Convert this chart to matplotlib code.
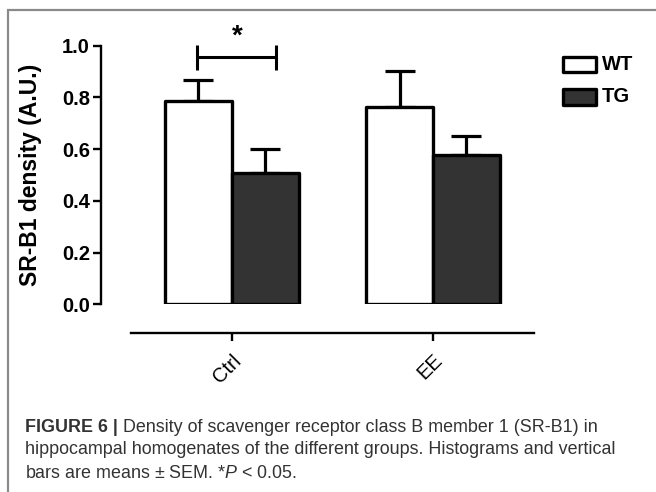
import matplotlib
matplotlib.use("Agg")
import matplotlib.pyplot as plt
from matplotlib.patches import Rectangle
import numpy as np

groups = ["Ctrl", "EE"]
series = ["WT", "TG"]
wt_mean = [0.787, 0.762]
wt_sem = [0.079, 0.141]
tg_mean = [0.507, 0.577]
tg_sem = [0.093, 0.075]
y_ticks = [0.0, 0.2, 0.4, 0.6, 0.8, 1.0]
ylabel = "SR-B1 density (A.U.)"
caption_bold = "FIGURE 6 |"
caption_lines = [
    " Density of scavenger receptor class B member 1 (SR-B1) in",
    "hippocampal homogenates of the different groups. Histograms and vertical",
    "bars are means \u00b1 SEM. *$P$ < 0.05.",
]

W, H = 656, 492
fig = plt.figure(figsize=(W / 100, H / 100), dpi=100)
fig.patch.set_facecolor("white")
plt.rcParams["font.family"] = ["Liberation Sans", "DejaVu Sans"]
plt.rcParams["mathtext.fontset"] = "custom"
plt.rcParams["mathtext.it"] = "Liberation Sans:italic"

def fx(px):
    return px / W

def fy(py):
    return 1 - py / H

# axes placement (pixels)
ax_left, ax_right = 101, 545
y0_px, y1_px = 304.3, 45.7
ax = fig.add_axes([fx(ax_left), fy(y0_px), (ax_right - ax_left) / W, (y0_px - y1_px) / H])
ax.set_facecolor("none")

x = np.arange(len(groups))
bw = 0.3325
lw_bar = 2.4
ax.bar(x - bw / 2, wt_mean, bw, color="white", edgecolor="black", linewidth=lw_bar,
       joinstyle="round", zorder=3, label=series[0])
ax.bar(x + bw / 2, tg_mean, bw, color="#333333", edgecolor="black", linewidth=lw_bar,
       joinstyle="round", zorder=3, label=series[1])
ax.errorbar(x - bw / 2, wt_mean, yerr=[np.zeros(len(groups)), wt_sem], fmt="none",
            ecolor="black", elinewidth=2.3, capsize=10.5, capthick=2.3, zorder=2)
ax.errorbar(x + bw / 2, tg_mean, yerr=[np.zeros(len(groups)), tg_sem], fmt="none",
            ecolor="black", elinewidth=2.3, capsize=10.5, capthick=2.3, zorder=2)

ax.set_xlim(-0.648, 1.556)
ax.set_ylim(0, 1.0)

for s in ["top", "right"]:
    ax.spines[s].set_visible(False)
ax.spines["left"].set_linewidth(1.7)
ax.spines["bottom"].set_linewidth(1.7)
ax.spines["bottom"].set_position(("outward", 20.5))
ax.spines["bottom"].set_bounds(-0.5, 1.5)

ax.set_yticks(y_ticks)
ax.set_yticklabels([f"{v:.1f}" for v in y_ticks], fontsize=14.5, fontweight="bold")
ax.tick_params(axis="y", length=6, width=1.7, pad=2)
ax.set_xticks(x)
ax.set_xticklabels(groups, fontsize=14.5, rotation=45, ha="right", rotation_mode="anchor")
ax.tick_params(axis="x", length=6, width=1.7, pad=7)

ax.set_ylabel(ylabel, fontsize=16.5, fontweight="bold")
ax.yaxis.set_label_coords((42 - ax_left) / (ax_right - ax_left), 0.5)

# significance bracket
bx0, bx1, by = -0.173, 0.219, 0.957
ax.plot([bx0, bx1], [by, by], color="black", lw=2.2, clip_on=False, solid_capstyle="butt")
for bx in (bx0, bx1):
    ax.plot([bx, bx], [0.906, 1.003], color="black", lw=2.2, clip_on=False, solid_capstyle="butt")
ax.text(0.03, 1.035, "*", fontsize=20, fontweight="bold", ha="center", va="center")

# legend (manual)
for i, (lab, fc) in enumerate(zip(series, ["white", "#333333"])):
    top = 57 + i * 32.5
    r = Rectangle((fx(563), fy(top + 15)), 33 / W, 15 / H, transform=fig.transFigure,
                  facecolor=fc, edgecolor="black", linewidth=2.4, joinstyle="round")
    fig.add_artist(r)
    fig.text(fx(602), fy(top + 7.5), lab, fontsize=14.5, fontweight="bold", va="center", ha="left")

# border
border = Rectangle((fx(7.5), fy(H + 20)), (W + 20) / W, (H + 10) / H, transform=fig.transFigure,
                   facecolor="none", edgecolor="#8a8a8a", linewidth=1.6)
fig.add_artist(border)

# caption
cap_col = "#333333"
cap_fs = 12.9
baselines = [431.5, 454.5, 477.5]
t0 = fig.text(fx(25), fy(baselines[0]), caption_bold, fontsize=cap_fs, fontweight="bold",
              color=cap_col, va="baseline", ha="left")
fig.canvas.draw()
bb = t0.get_window_extent()
fig.text(bb.x1 / W, fy(baselines[0]), caption_lines[0], fontsize=cap_fs, color=cap_col,
         va="baseline", ha="left")
for ln, b in zip(caption_lines[1:], baselines[1:]):
    fig.text(fx(25), fy(b), ln, fontsize=cap_fs, color=cap_col, va="baseline", ha="left")

fig.savefig("out.png", dpi=100)
